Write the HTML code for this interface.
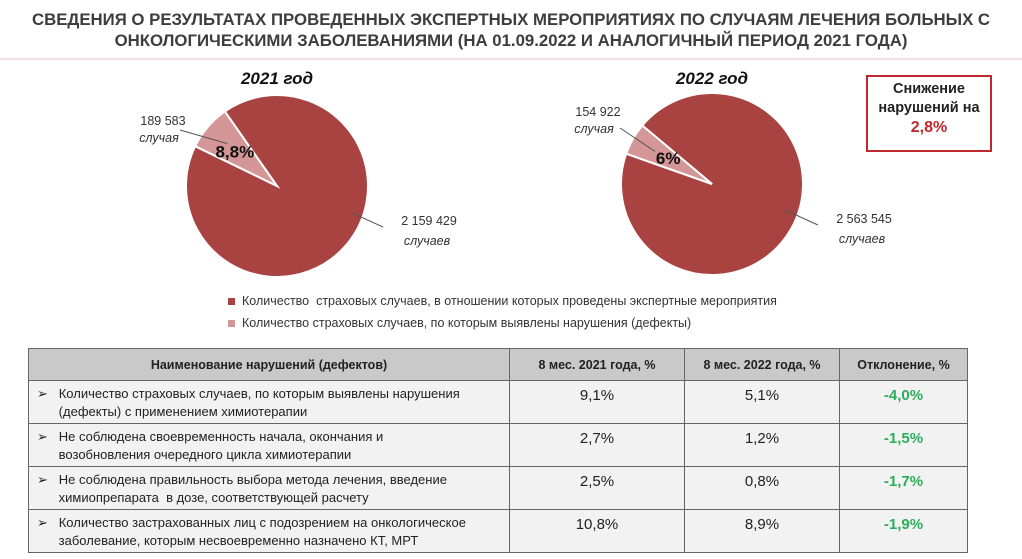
<!DOCTYPE html>
<html><head><meta charset="utf-8"><style>
body{margin:0;width:1022px;height:559px;background:#fff;overflow:hidden;font-family:"Liberation Sans","Noto Sans CJK SC",sans-serif;position:relative}
.t{position:absolute;white-space:nowrap}
table{position:absolute;left:28px;top:348px;border-collapse:collapse;font-size:13px;color:#222}
td,th{border:1px solid #666;padding:0;box-sizing:border-box}
th{background:#c9c9c9;height:32px;font-size:12.5px;font-weight:bold}
td{background:#f2f2f2;height:43px;vertical-align:top}
td.n{text-align:center;font-size:15px;padding-top:6px}
td.g{color:#2bae5a;font-weight:bold}
td.d{padding:4px 4px 0 8px;line-height:18px}
</style></head><body>
<div class="t" style="left:0;width:1022px;top:9px;text-align:center;font-size:16.8px;font-weight:bold;color:#3d3d3d;line-height:21px">СВЕДЕНИЯ О РЕЗУЛЬТАТАХ ПРОВЕДЕННЫХ ЭКСПЕРТНЫХ МЕРОПРИЯТИЯХ ПО СЛУЧАЯМ ЛЕЧЕНИЯ БОЛЬНЫХ С<br>ОНКОЛОГИЧЕСКИМИ ЗАБОЛЕВАНИЯМИ (НА 01.09.2022 И АНАЛОГИЧНЫЙ ПЕРИОД 2021 ГОДА)</div>
<div style="position:absolute;left:0;top:58px;width:1022px;height:2px;background:#f7dede"></div>
<svg id="ch" width="1022" height="340" style="position:absolute;left:0;top:0"></svg>
<div class="t" style="left:866px;top:75px;width:122px;height:70px;border:2px solid #c0282f;text-align:center;font-weight:bold;font-size:14.5px;line-height:19px;padding-top:3px;color:#222">Снижение<br>нарушений на<br><span style="color:#c0282f;font-size:16px">2,8%</span></div>
<div class="t" style="left:228px;top:294px;font-size:12.5px;color:#333"><span style="display:inline-block;width:7px;height:7px;background:#a84342;margin-right:7px"></span>Количество &nbsp;страховых случаев, в отношении которых проведены экспертные мероприятия</div>
<div class="t" style="left:228px;top:316px;font-size:12.5px;color:#333"><span style="display:inline-block;width:7px;height:7px;background:#d49696;margin-right:7px"></span>Количество страховых случаев, по которым выявлены нарушения (дефекты)</div>
<table>
<tr><th style="width:481px">Наименование нарушений (дефектов)</th><th style="width:175px">8 мес. 2021 года, %</th><th style="width:155px">8 мес. 2022 года, %</th><th style="width:128px">Отклонение, %</th></tr>
<tr><td class="d">➢&nbsp;&nbsp; Количество страховых случаев, по которым выявлены нарушения<br>&nbsp;&nbsp;&nbsp;&nbsp;&nbsp;&nbsp;(дефекты) с применением химиотерапии</td><td class="n">9,1%</td><td class="n">5,1%</td><td class="n g">-4,0%</td></tr>
<tr><td class="d">➢&nbsp;&nbsp; Не соблюдена своевременность начала, окончания и<br>&nbsp;&nbsp;&nbsp;&nbsp;&nbsp;&nbsp;возобновления очередного цикла химиотерапии</td><td class="n">2,7%</td><td class="n">1,2%</td><td class="n g">-1,5%</td></tr>
<tr><td class="d">➢&nbsp;&nbsp; Не соблюдена правильность выбора метода лечения, введение<br>&nbsp;&nbsp;&nbsp;&nbsp;&nbsp;&nbsp;химиопрепарата &nbsp;в дозе, соответствующей расчету</td><td class="n">2,5%</td><td class="n">0,8%</td><td class="n g">-1,7%</td></tr>
<tr><td class="d">➢&nbsp;&nbsp; Количество застрахованных лиц с подозрением на онкологическое<br>&nbsp;&nbsp;&nbsp;&nbsp;&nbsp;&nbsp;заболевание, которым несвоевременно назначено КТ, МРТ</td><td class="n">10,8%</td><td class="n">8,9%</td><td class="n g">-1,9%</td></tr>
</table>
<script>
const years=["2021 год","2022 год"];
const totals=[2159429,2563545];
const violations=[189583,154922];
const pctLabels=["8,8%","6%"];
const totalLabels=["2 159 429","2 563 545"];
const violLabels=["189 583","154 922"];
const NS="http://www.w3.org/2000/svg";
const svg=document.getElementById('ch');
function mk(tag,attrs){const e=document.createElementNS(NS,tag);for(const k in attrs)e.setAttribute(k,attrs[k]);svg.appendChild(e);return e;}
const layout=[{cx:277,cy:186,r:91,start:-35},{cx:712,cy:184,r:91,start:-50}];
function pt(L,a,r){const rad=a*Math.PI/180;return [L.cx+r*Math.sin(rad),L.cy-r*Math.cos(rad)];}
function arc(L,a0,a1){const p0=pt(L,a0,L.r),p1=pt(L,a1,L.r);const lg=(a1-a0)>180?1:0;return `M${L.cx},${L.cy}L${p0[0]},${p0[1]}A${L.r},${L.r} 0 ${lg} 1 ${p1[0]},${p1[1]}Z`;}
years.forEach((y,i)=>{
 const L=layout[i];const sum=totals[i]+violations[i];
 const aMain=360*totals[i]/sum;
 const a0=L.start,a1=a0+aMain,a2=a0+360;
 let p=mk('path',{d:arc(L,a0,a1),fill:'#a84342',stroke:'#fff','stroke-width':2});
 
 
 p=mk('path',{d:arc(L,a1,a2),fill:'#d49696',stroke:'#fff','stroke-width':2});
 
 
 let t=mk('text',{x:L.cx,y:84,'text-anchor':'middle','font-size':17,'font-weight':'bold','font-style':'italic',fill:'#111'});t.textContent=y;
 
 
 const mid=(a1+a2)/2;const pp=pt(L,mid,L.r*0.58);
 t=mk('text',{x:pp[0]+(i?2:-2),y:pp[1]+6,'text-anchor':'middle','font-size':17,'font-weight':'bold',fill:'#111'});t.textContent=pctLabels[i];
 
 
 const q=pt(L,mid,L.r*0.72);
 mk('line',{x1:L.cx-(i?92:97),y1:L.cy-(i?56:56),x2:q[0],y2:q[1],stroke:'#555','stroke-width':1});
 t=mk('text',{x:L.cx-114,y:L.cy-61-(i?7:0),'text-anchor':'middle','font-size':12.5,fill:'#333'});t.textContent=violLabels[i];
 
 
 t=mk('text',{x:L.cx-118,y:L.cy-44-(i?7:0),'text-anchor':'middle','font-size':12.5,'font-style':'italic',fill:'#333'});t.textContent='случая';
 mk('line',{x1:L.cx+73,y1:L.cy+26,x2:L.cx+106,y2:L.cy+41,stroke:'#555','stroke-width':1});
 t=mk('text',{x:L.cx+152,y:L.cy+39,'text-anchor':'middle','font-size':12.5,fill:'#333'});t.textContent=totalLabels[i];
 
 
 t=mk('text',{x:L.cx+150,y:L.cy+59,'text-anchor':'middle','font-size':12.5,'font-style':'italic',fill:'#333'});t.textContent='случаев';
});
</script>
</body></html>
